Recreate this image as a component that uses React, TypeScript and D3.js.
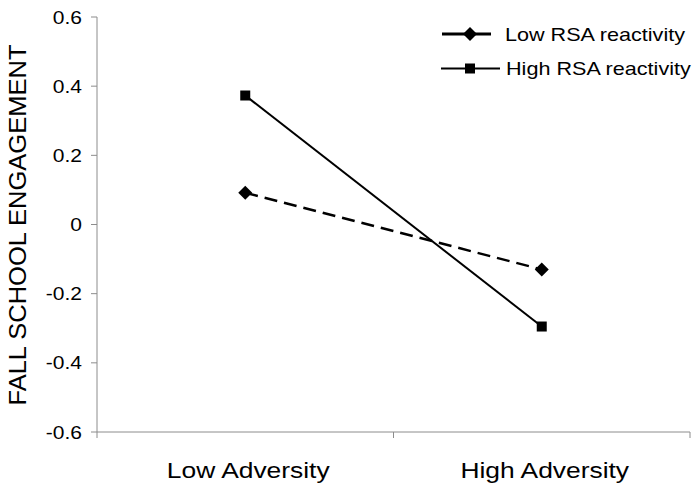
import React from "react";
import * as d3 from "d3";

const categories = ["Low Adversity", "High Adversity"];
const lowRSA = [0.092, -0.13];
const highRSA = [0.373, -0.295];
const yTicks = [0.6, 0.4, 0.2, 0, -0.2, -0.4, -0.6];
const seriesNames = ["Low RSA reactivity", "High RSA reactivity"];
const yTitle = "FALL SCHOOL ENGAGEMENT";

export default function App() {
  const W = 698, H = 494;
  const x0 = 97, x1 = 690, yTop = 17, yBot = 432;
  const x = d3.scaleBand<string>().domain(categories).range([x0, x1]);
  const y = d3.scaleLinear().domain([-0.6, 0.6]).range([yBot, yTop]);
  const cx = (c: string) => (x(c) as number) + x.bandwidth() / 2;
  const line = d3.line<[number, number]>().x(d => d[0]).y(d => d[1]);
  const pts = (vals: number[]) => vals.map((v, i) => [cx(categories[i]), y(v)] as [number, number]);
  const font = "Liberation Sans, Arial, sans-serif";
  const axisColor = "#8c8c8c";
  const diamond = (px: number, py: number, r = 7) =>
    `M${px},${py - r}L${px + r},${py}L${px},${py + r}L${px - r},${py}Z`;
  const boundaries = [x0, ...categories.map(c => (x(c) as number) + x.bandwidth())];
  const T = (props: { x: number; y: number; size: number; sx?: number; anchor?: string; rotate?: number; children: React.ReactNode }) => (
    <text
      transform={`translate(${props.x},${props.y})${props.rotate ? ` rotate(${props.rotate})` : ""} scale(${props.sx ?? 1.2},1)`}
      textAnchor={props.anchor || "start"}
      fontSize={props.size}
      fill="#000"
    >
      {props.children}
    </text>
  );
  return (
    <svg width={W} height={H} style={{ position: "absolute", left: 0, top: 0, background: "#fff" }} fontFamily={font}>
      <rect width={W} height={H} fill="#fff" />
      {/* y axis */}
      <line x1={x0} x2={x0} y1={yTop} y2={yBot} stroke={axisColor} strokeWidth={1} />
      {yTicks.map(t => (
        <g key={t}>
          <line x1={x0 - 6} x2={x0} y1={y(t)} y2={y(t)} stroke={axisColor} />
          <T x={82} y={y(t) + 6.5} size={17.5} anchor="end">{t === 0 ? "0" : t.toFixed(1)}</T>
        </g>
      ))}
      {/* x axis */}
      <line x1={x0} x2={x1} y1={yBot} y2={yBot} stroke={axisColor} />
      {boundaries.map((b, i) => (
        <line key={i} x1={b} x2={b} y1={yBot} y2={yBot + 6} stroke={axisColor} />
      ))}
      {categories.map(c => (
        <T key={c} x={cx(c) + 3} y={478} size={22} anchor="middle">{c}</T>
      ))}
      <T x={26} y={225} size={23} sx={1.11} anchor="middle" rotate={-90}>{yTitle}</T>
      {/* series */}
      <path d={line(pts(lowRSA)) as string} fill="none" stroke="#000" strokeWidth={2.5} strokeDasharray="13,7" />
      <path d={line(pts(highRSA)) as string} fill="none" stroke="#000" strokeWidth={2} />
      {pts(lowRSA).map((p, i) => <path key={i} d={diamond(p[0], p[1])} fill="#000" />)}
      {pts(highRSA).map((p, i) => <rect key={i} x={p[0] - 5} y={p[1] - 5} width={10} height={10} fill="#000" />)}
      {/* legend */}
      <line x1={442} x2={491} y1={34} y2={34} stroke="#000" strokeWidth={2.8} />
      <path d={diamond(470, 34, 7)} fill="#000" />
      <T x={505} y={41} size={18}>{seriesNames[0]}</T>
      <line x1={441} x2={500} y1={68.5} y2={68.5} stroke="#000" strokeWidth={2} />
      <rect x={465} y={63.5} width={10} height={10} fill="#000" />
      <T x={506} y={75} size={18}>{seriesNames[1]}</T>
    </svg>
  );
}
